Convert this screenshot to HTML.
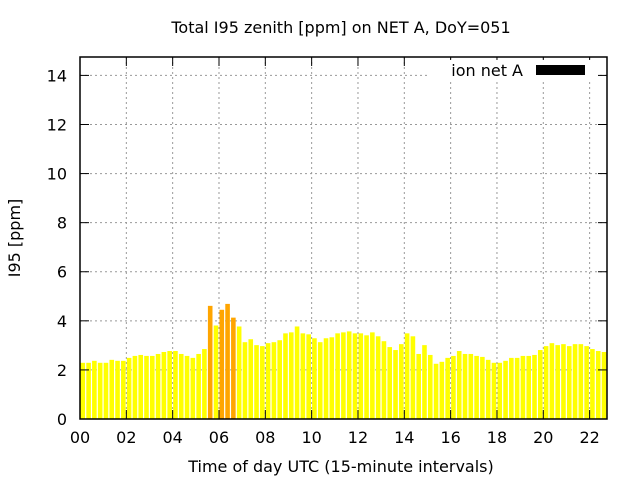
<!DOCTYPE html>
<html><head><meta charset="utf-8"><style>
html,body{margin:0;padding:0;background:#fff;}
svg{display:block;font-family:"DejaVu Sans","Liberation Sans",sans-serif;}
</style></head><body>
<svg id="chart" width="640" height="480" xmlns="http://www.w3.org/2000/svg">
<text x="341" y="33" text-anchor="middle" font-size="16">Total I95 zenith [ppm] on NET A, DoY=051</text>
<text x="0" y="0" transform="translate(20,238) rotate(-90)" text-anchor="middle" font-size="16">I95 [ppm]</text>
<text x="341" y="472" text-anchor="middle" font-size="16">Time of day UTC (15-minute intervals)</text>
<g id="grid"></g>
<g id="bars"></g>
<g id="axes"></g>
<g>
<rect x="428" y="60" width="170" height="20" fill="#fff"/>
<text x="523" y="76" text-anchor="end" font-size="16">ion net A</text>
<rect x="536" y="65" width="49" height="10" fill="#000"/>
</g>
</svg>
<script>
const values = [2.29,2.29,2.37,2.29,2.29,2.41,2.37,2.37,2.49,2.57,2.61,2.57,2.57,2.65,2.73,2.77,2.77,2.65,2.57,2.49,2.65,2.85,
4.61,3.81,4.45,4.69,4.13,3.77,3.13,3.25,
3.01,2.97,3.09,3.13,3.21,3.49,3.53,3.77,3.49,3.45,3.29,3.13,3.29,3.33,3.49,3.53,3.57,3.49,3.49,3.41,3.53,3.37,3.17,2.93,2.81,3.05,3.49,3.37,2.65,3.01,
2.61,2.25,2.33,2.49,2.57,2.77,2.65,2.65,2.57,2.53,2.41,2.29,2.29,2.37,2.49,2.49,2.57,2.57,2.61,2.81,2.97,3.09,3.01,3.05,2.97,3.05,3.05,2.97,2.85,2.77,2.73,2.69];
const highlighted = [22,24,25,26];
const yTicks = [0,2,4,6,8,10,12,14];
const xTicks = [0,2,4,6,8,10,12,14,16,18,20,22];
const xTickLabels = ["00","02","04","06","08","10","12","14","16","18","20","22"];
const X0=80,X1=607,Y0=419,Y1=57,XMAX=22.75,YMAX=14.75;
const xs=h=>X0+(X1-X0)*h/XMAX;
const ys=v=>Y0-(Y0-Y1)*v/YMAX;
const NS="http://www.w3.org/2000/svg";
function mk(tag,attrs,parent){const e=document.createElementNS(NS,tag);for(const k in attrs)e.setAttribute(k,attrs[k]);parent.appendChild(e);return e;}
const grid=document.getElementById('grid'),bars=document.getElementById('bars'),axes=document.getElementById('axes');
yTicks.forEach(t=>{if(t>0){const l=mk('line',{x1:X0,x2:X1,y1:ys(t),y2:ys(t),stroke:'#999','stroke-dasharray':'2,3','stroke-width':1},grid);

}
mk('line',{x1:X0,x2:X0+9,y1:ys(t),y2:ys(t),stroke:'#000'},axes);
mk('line',{x1:X1,x2:X1-9,y1:ys(t),y2:ys(t),stroke:'#000'},axes);
const tx=mk('text',{x:X0-13,y:ys(t)+6,'text-anchor':'end','font-size':16},axes);tx.textContent=t;

});
xTicks.forEach((t,i)=>{if(t>0){const l=mk('line',{x1:xs(t),x2:xs(t),y1:Y0,y2:Y1,stroke:'#999','stroke-dasharray':'2,3','stroke-width':1},grid);

}
mk('line',{x1:xs(t),x2:xs(t),y1:Y0,y2:Y0-9,stroke:'#000'},axes);
mk('line',{x1:xs(t),x2:xs(t),y1:Y1,y2:Y1+9,stroke:'#000'},axes);
const tx=mk('text',{x:xs(t),y:443,'text-anchor':'middle','font-size':16},axes);tx.textContent=xTickLabels[i];

});
values.forEach((v,i)=>{const h0=i*0.25,h1=h0+0.25;const left=xs(h0)+0.5;let right=xs(h1)-0.7;if(left>=X1)return;if(right>X1)right=X1;
const r=mk('rect',{x:left,y:ys(v),width:Math.max(0,right-left),height:Y0-ys(v),fill:highlighted.includes(i)?'#ffa500':'#ffff00'},bars);

});
mk('rect',{x:X0,y:Y1,width:X1-X0,height:Y0-Y1,fill:'none',stroke:'#000','stroke-width':1.5},axes);
</script>
</body></html>
